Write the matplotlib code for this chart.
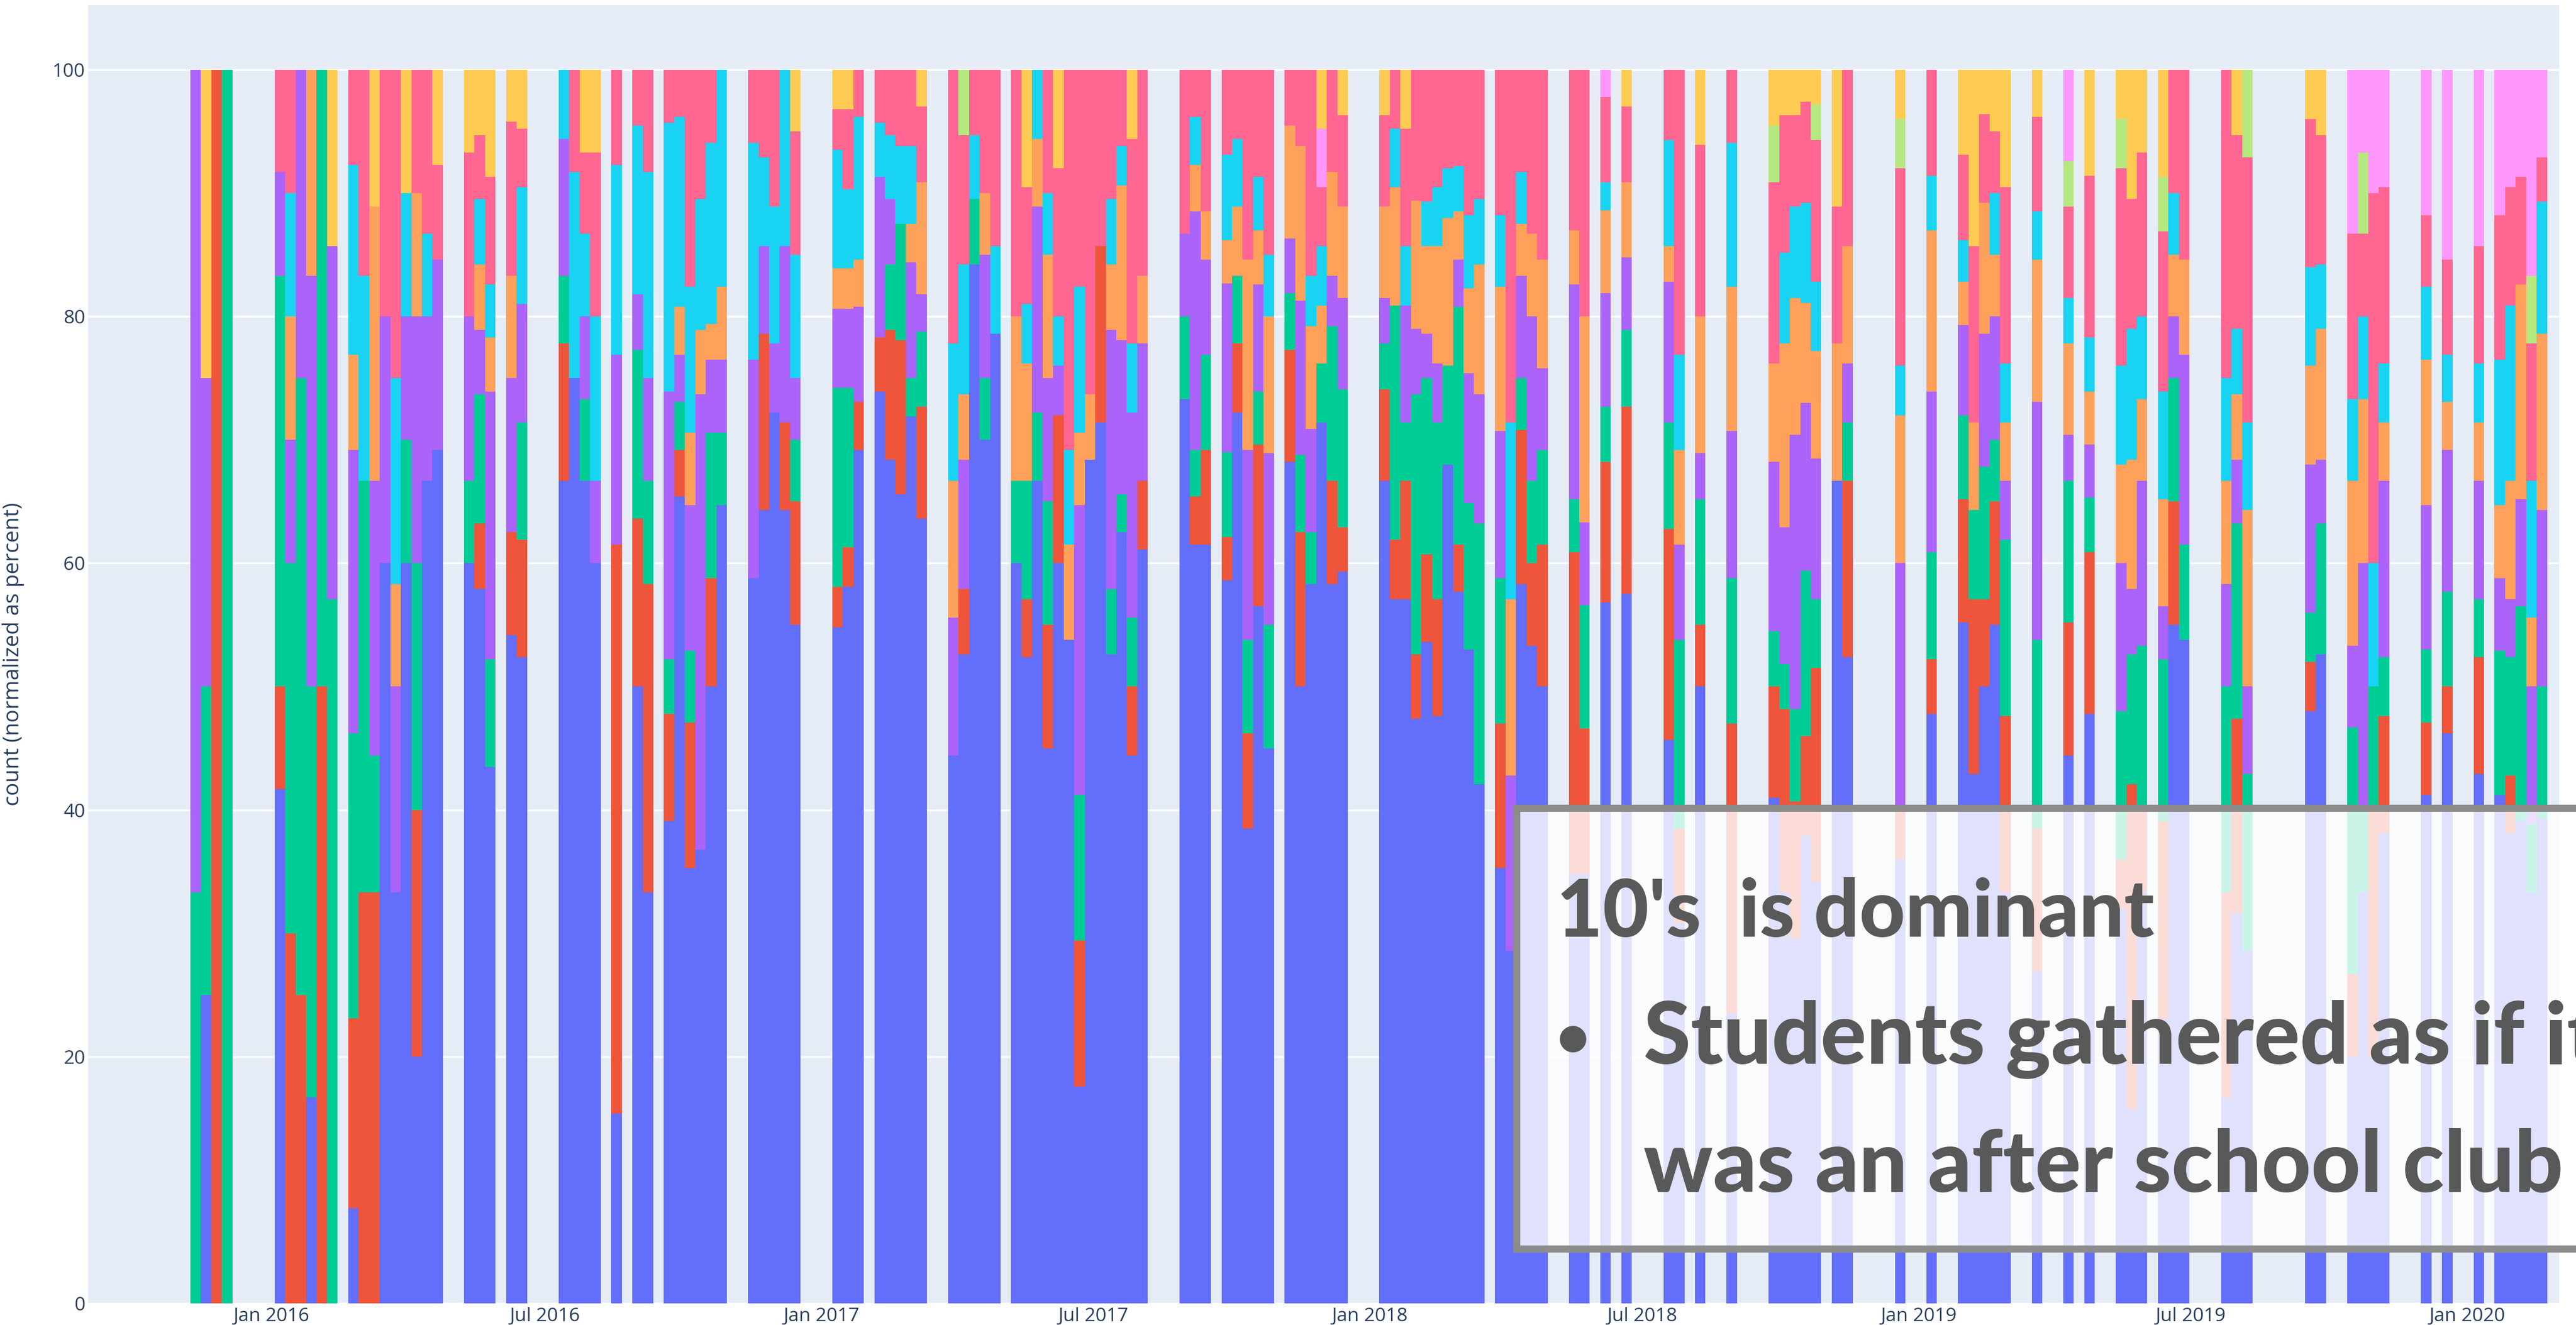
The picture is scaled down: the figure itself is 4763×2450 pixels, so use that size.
from __future__ import annotations

import matplotlib

matplotlib.use("Agg")

import matplotlib.pyplot as plt
import pandas as pd
from matplotlib.patches import Rectangle

FIRST_WEEK = pd.Timestamp("2015-11-08")

# share of the week's count up to and including each group (week number -> percent)
blue_top = {1: 25, 8: 41.7, 11: 16.7, 15: 7.7, 18: 60, 19: 33.3, 20: 60, 21: 20, 22: 66.7, 23: 69.2, 26: 60, 27: 57.9, 28: 43.5, 30: 54.2, 31: 52.4, 35: 66.7, 36: 75, 37: 66.7, 38: 60, 40: 15.4, 42: 50, 43: 33.3, 45: 39.1, 46: 65.4, 47: 35.3, 48: 36.8, 49: 50, 50: 64.7, 53: 58.8, 54: 64.3, 55: 72.2, 56: 64.3, 57: 55, 61: 54.8, 62: 58.1, 63: 69.2, 65: 73.9, 66: 68.4, 67: 65.6, 68: 71.9, 69: 63.6, 72: 44.4, 73: 52.6, 74: 84.2, 75: 70, 76: 78.6, 78: 60, 79: 52.4, 80: 66.7, 81: 45, 82: 60, 83: 53.8, 84: 17.6, 85: 68.4, 86: 71.4, 87: 52.6, 88: 62.5, 89: 44.4, 90: 61.1, 94: 73.3, 95: 61.5, 96: 61.5, 98: 58.6, 99: 72.2, 100: 38.5, 101: 56.5, 102: 45, 104: 68.2, 105: 50, 106: 58.3, 107: 71.4, 108: 58.3, 109: 59.3, 113: 66.7, 114: 57.1, 115: 57.1, 116: 47.4, 117: 53.6, 118: 47.6, 119: 68, 120: 57.7, 121: 53, 122: 42.1, 124: 35.3, 125: 28.6, 126: 58.3, 127: 53.3, 128: 50, 131: 34.8, 132: 34.8, 134: 56.8, 136: 57.5, 140: 45.7, 141: 30.8, 143: 50, 146: 23.5, 150: 41, 151: 33.3, 152: 29.6, 153: 37.9, 154: 34.2, 156: 66.7, 157: 52.4, 162: 36, 165: 47.8, 168: 55.2, 169: 42.9, 170: 50, 171: 55, 172: 33.3, 175: 26.9, 178: 44.4, 180: 47.8, 183: 32, 184: 15.8, 185: 33.3, 187: 23, 188: 55, 189: 53.8, 193: 16.7, 194: 31.6, 195: 28.6, 201: 48, 202: 52.6, 205: 20, 206: 33.3, 207: 20, 208: 38.1, 212: 41.2, 214: 46.2, 217: 42.9, 219: 41.2, 220: 38.1, 221: 39.1, 222: 33.3, 223: 39.3}
red_top = {2: 100, 8: 50, 9: 30, 10: 25, 12: 50, 15: 23.1, 16: 33.3, 17: 33.3, 21: 40, 27: 63.2, 30: 62.5, 31: 61.9, 35: 77.8, 40: 61.5, 42: 63.6, 43: 58.3, 45: 47.8, 46: 69.2, 47: 47.1, 49: 58.8, 54: 78.6, 56: 71.4, 57: 65, 61: 58.1, 62: 61.3, 63: 73.1, 65: 78.3, 66: 78.9, 67: 78.1, 69: 72.7, 73: 57.9, 79: 57.1, 81: 55, 82: 72, 84: 29.4, 86: 85.7, 89: 50, 90: 66.7, 95: 65.4, 96: 69.2, 98: 62.1, 99: 77.8, 100: 46.2, 101: 69.6, 104: 77.3, 105: 62.5, 108: 66.7, 109: 62.9, 113: 74.1, 114: 61.9, 115: 66.7, 116: 52.6, 117: 60.7, 118: 57.1, 120: 61.5, 124: 47, 126: 70.8, 127: 60, 128: 61.5, 131: 60.9, 132: 46.6, 134: 68.2, 136: 72.7, 140: 62.8, 141: 38.5, 143: 55, 146: 47, 150: 50, 151: 48.2, 152: 40.7, 153: 46, 154: 51.5, 157: 66.7, 162: 40, 165: 52.2, 168: 65.2, 169: 57.1, 170: 57.1, 171: 65, 172: 47.6, 175: 38.5, 178: 55.2, 180: 60.9, 183: 36, 184: 42.1, 185: 40, 187: 39.1, 188: 65, 193: 33.3, 194: 47.4, 201: 52, 205: 26.7, 207: 40, 208: 47.6, 212: 47.1, 214: 50, 217: 52.4, 220: 42.8}
green_top = {0: 33.3, 1: 50, 3: 100, 8: 83.3, 9: 60, 10: 75, 11: 50, 12: 100, 13: 57.1, 15: 46.2, 16: 66.7, 17: 44.4, 20: 70, 21: 60, 26: 66.7, 27: 73.7, 28: 52.2, 31: 71.4, 35: 83.3, 37: 73.3, 42: 77.3, 43: 66.7, 45: 52.2, 46: 73.1, 47: 52.9, 49: 70.6, 50: 70.6, 57: 70, 61: 74.2, 62: 74.2, 66: 84.2, 67: 87.5, 68: 75, 69: 78.8, 74: 89.5, 75: 75, 78: 66.7, 79: 66.7, 80: 72.2, 81: 65, 84: 41.2, 87: 57.9, 88: 65.6, 89: 55.6, 94: 80, 95: 69.2, 96: 76.9, 98: 69, 99: 83.3, 100: 53.8, 101: 73.9, 102: 55, 104: 81.9, 105: 68.8, 106: 62.5, 107: 76.2, 108: 79.2, 109: 74.1, 113: 77.8, 114: 80.9, 115: 71.4, 116: 73.7, 117: 75, 118: 71.4, 119: 76, 120: 80.8, 121: 64.9, 122: 63.2, 124: 58.8, 126: 75, 127: 66.7, 128: 69.2, 131: 65.2, 132: 56.6, 134: 72.7, 136: 78.9, 140: 71.4, 141: 53.8, 143: 65.2, 146: 58.8, 150: 54.5, 151: 51.8, 152: 48.2, 153: 59.4, 154: 57.1, 157: 71.4, 165: 60.9, 168: 72, 169: 64.3, 170: 67.8, 171: 70, 172: 61.9, 175: 53.8, 178: 66.7, 180: 65.3, 183: 48, 184: 52.6, 185: 53.3, 187: 52.2, 188: 75, 189: 61.5, 193: 50, 194: 63.2, 195: 42.9, 201: 56, 202: 63.2, 205: 46.7, 206: 40, 207: 50, 208: 52.4, 212: 53, 214: 57.7, 217: 57.1, 219: 52.9, 220: 52.4, 221: 56.5, 222: 38.9, 223: 50}
purple_top = {0: 100, 1: 75, 8: 91.7, 9: 70, 10: 100, 11: 83.3, 13: 85.7, 15: 69.2, 17: 66.7, 18: 80, 19: 50, 20: 80, 21: 80, 22: 80, 23: 84.6, 26: 80, 27: 78.9, 28: 73.9, 30: 75, 31: 81, 35: 94.4, 37: 80, 38: 66.7, 40: 76.9, 42: 81.8, 43: 75, 45: 73.9, 46: 76.9, 47: 64.7, 48: 73.7, 49: 76.5, 50: 76.5, 53: 76.5, 54: 85.7, 55: 77.8, 56: 85.7, 57: 75, 61: 80.6, 62: 80.6, 63: 80.8, 65: 91.3, 66: 89.5, 68: 84.4, 69: 81.8, 72: 55.6, 73: 68.4, 75: 85, 80: 88.9, 81: 75, 82: 76, 84: 64.7, 87: 78.9, 88: 78.1, 89: 72.2, 90: 77.8, 94: 86.7, 95: 88.5, 96: 84.6, 98: 82.7, 100: 69.2, 101: 82.6, 102: 68.9, 104: 86.3, 105: 81.3, 106: 70.9, 108: 83.3, 109: 81.5, 113: 81.5, 115: 80.9, 116: 79, 117: 78.6, 118: 76.2, 120: 84.6, 121: 75.4, 122: 73.7, 124: 70.7, 125: 42.8, 126: 83.3, 127: 80, 128: 75.8, 131: 82.6, 132: 63.3, 134: 81.9, 136: 84.8, 140: 82.8, 141: 61.5, 143: 68.9, 146: 70.7, 150: 68.2, 151: 62.9, 152: 70.4, 153: 73, 154: 68.5, 157: 76.2, 162: 60, 165: 73.9, 168: 79.3, 170: 78.6, 171: 80, 172: 66.7, 175: 73.1, 178: 70.4, 180: 69.6, 183: 60, 184: 57.9, 185: 66.7, 187: 56.5, 188: 80, 189: 76.9, 193: 58.3, 194: 68.4, 195: 50, 201: 68, 202: 68.4, 205: 53.3, 206: 60, 208: 66.7, 212: 64.7, 214: 69.2, 217: 66.7, 219: 58.8, 220: 57.1, 221: 65.2, 222: 50, 223: 64.3}
orange_top = {9: 80, 11: 100, 15: 76.9, 17: 88.9, 19: 58.3, 21: 90, 27: 84.2, 28: 78.3, 30: 83.3, 46: 80.8, 47: 70.6, 48: 78.9, 49: 79.4, 50: 82.4, 61: 83.9, 62: 83.9, 63: 84.6, 68: 87.5, 69: 90.9, 72: 66.7, 73: 73.7, 75: 90, 78: 80, 79: 76.2, 80: 94.4, 81: 85, 83: 61.5, 84: 70.6, 85: 73.7, 87: 84.2, 88: 90.6, 90: 83.3, 95: 92.3, 96: 88.5, 98: 86.2, 99: 88.9, 100: 84.6, 101: 87, 102: 80, 104: 95.5, 105: 93.8, 106: 79.2, 107: 80.9, 108: 91.7, 109: 88.9, 113: 88.9, 114: 90.5, 116: 89.4, 117: 85.7, 118: 85.7, 119: 88, 120: 88.5, 121: 82.3, 122: 84.2, 124: 82.4, 125: 57.1, 126: 87.5, 127: 86.7, 128: 84.6, 131: 87, 132: 80, 134: 88.6, 136: 90.9, 140: 85.7, 141: 69.2, 143: 80, 146: 82.4, 150: 76.2, 151: 77.8, 152: 81.5, 153: 81.1, 154: 77.2, 156: 77.8, 157: 85.7, 162: 72, 165: 87, 168: 82.8, 169: 71.4, 170: 89.2, 171: 85, 172: 71.4, 175: 84.6, 178: 77.8, 180: 73.9, 183: 68, 184: 68.4, 185: 73.3, 187: 65.2, 188: 85, 189: 84.6, 193: 66.7, 194: 73.7, 195: 64.3, 201: 76, 202: 79, 205: 66.7, 206: 73.3, 208: 71.4, 212: 76.5, 214: 73.1, 217: 71.4, 219: 64.7, 220: 66.7, 221: 82.6, 222: 55.6, 223: 78.6}
cyan_top = {9: 90, 15: 92.3, 16: 83.3, 19: 75, 20: 90, 22: 86.7, 27: 89.5, 28: 82.6, 31: 90.5, 35: 100, 36: 91.7, 37: 86.7, 38: 80, 40: 92.3, 42: 95.5, 43: 91.7, 45: 95.7, 46: 96.2, 47: 82.4, 48: 89.5, 49: 94.1, 50: 100, 53: 94.1, 54: 92.9, 55: 88.9, 56: 100, 57: 85, 61: 93.5, 62: 90.3, 63: 96.2, 65: 95.7, 66: 94.7, 67: 93.8, 68: 93.8, 72: 77.8, 73: 84.2, 74: 94.7, 76: 85.7, 79: 81, 80: 100, 81: 90, 82: 80, 83: 69.2, 84: 82.4, 87: 89.5, 88: 93.8, 89: 77.8, 95: 96.2, 98: 93.1, 99: 94.4, 101: 91.3, 102: 85, 106: 83.3, 107: 85.7, 114: 95.2, 115: 85.7, 117: 89.3, 118: 90.5, 119: 92, 120: 92.2, 121: 88.2, 122: 89.5, 124: 88.2, 125: 71.4, 126: 91.7, 134: 90.9, 140: 94.3, 141: 76.9, 146: 94.1, 151: 85.2, 152: 88.9, 153: 89.2, 154: 82.8, 162: 76, 165: 91.4, 168: 86.2, 171: 90, 172: 76.2, 175: 88.5, 178: 81.5, 180: 78.3, 183: 76, 184: 79, 185: 80, 187: 73.9, 188: 90, 193: 75, 194: 79, 195: 71.4, 201: 84, 202: 84.2, 205: 73.3, 206: 80, 207: 60, 208: 76.2, 212: 82.4, 214: 76.9, 217: 76.2, 219: 76.5, 220: 80.9, 222: 66.7, 223: 89.3}
pink_top = {8: 100, 9: 100, 15: 100, 16: 100, 18: 100, 19: 100, 21: 100, 22: 100, 23: 92.3, 26: 93.3, 27: 94.7, 28: 91.3, 30: 95.8, 31: 95.2, 36: 100, 37: 93.3, 38: 93.3, 40: 100, 42: 100, 43: 100, 45: 100, 46: 100, 47: 100, 48: 100, 49: 100, 53: 100, 54: 100, 55: 100, 57: 95, 61: 96.8, 62: 96.8, 63: 100, 65: 100, 66: 100, 67: 100, 68: 100, 69: 97, 72: 100, 73: 94.7, 74: 100, 75: 100, 76: 100, 78: 100, 79: 90.5, 81: 100, 82: 92, 83: 100, 84: 100, 85: 100, 86: 100, 87: 100, 88: 100, 89: 94.4, 90: 100, 94: 100, 95: 100, 96: 100, 98: 100, 99: 100, 100: 100, 101: 100, 102: 100, 104: 100, 105: 100, 106: 100, 107: 90.5, 108: 100, 109: 96.3, 113: 96.3, 114: 100, 115: 95.2, 116: 100, 117: 100, 118: 100, 119: 100, 120: 100, 121: 100, 122: 100, 124: 100, 125: 100, 126: 100, 127: 100, 128: 100, 131: 100, 132: 100, 134: 97.8, 136: 97, 140: 100, 141: 100, 143: 93.9, 146: 100, 150: 90.9, 151: 96.3, 152: 96.3, 153: 97.4, 154: 94.3, 156: 88.9, 157: 100, 162: 92, 165: 100, 168: 93.1, 169: 85.7, 170: 96.4, 171: 95, 172: 90.5, 175: 96.2, 178: 88.9, 180: 91.4, 183: 92, 184: 89.5, 185: 93.3, 187: 86.9, 188: 100, 189: 100, 193: 100, 194: 94.7, 195: 92.9, 201: 96, 202: 94.7, 205: 86.7, 206: 86.7, 207: 90, 208: 90.5, 212: 88.2, 214: 84.6, 217: 85.7, 219: 88.2, 220: 90.5, 221: 91.3, 222: 77.8, 223: 92.9}
lime_top = {73: 100, 150: 95.5, 154: 97.2, 162: 96, 178: 92.6, 183: 96, 187: 91.3, 195: 100, 206: 93.3, 222: 83.3}
magenta_top = {107: 95.2, 134: 100, 178: 100, 205: 100, 206: 100, 207: 100, 208: 100, 212: 100, 214: 100, 217: 100, 219: 100, 220: 100, 221: 100, 222: 100, 223: 100}
yellow_top = {1: 100, 13: 100, 17: 100, 20: 100, 23: 100, 26: 100, 27: 100, 28: 100, 30: 100, 31: 100, 37: 100, 38: 100, 57: 100, 61: 100, 62: 100, 69: 100, 79: 100, 82: 100, 89: 100, 107: 100, 109: 100, 113: 100, 115: 100, 136: 100, 143: 100, 150: 100, 151: 100, 152: 100, 153: 100, 154: 100, 156: 100, 162: 100, 168: 100, 169: 100, 170: 100, 171: 100, 172: 100, 175: 100, 180: 100, 183: 100, 184: 100, 185: 100, 187: 100, 194: 100, 201: 100, 202: 100}

y_ticks = [0, 20, 40, 60, 80, 100]
x_tick_dates = ["2016-01-01", "2016-07-01", "2017-01-01", "2017-07-01", "2018-01-01", "2018-07-01", "2019-01-01", "2019-07-01", "2020-01-01"]
x_tick_labels = ["Jan 2016", "Jul 2016", "Jan 2017", "Jul 2017", "Jan 2018", "Jul 2018", "Jan 2019", "Jul 2019", "Jan 2020"]

SERIES = [
    (blue_top, "#636EFA"),
    (red_top, "#EF553B"),
    (green_top, "#00CC96"),
    (purple_top, "#AB63FA"),
    (orange_top, "#FFA15A"),
    (cyan_top, "#19D3F3"),
    (pink_top, "#FF6692"),
    (lime_top, "#B6E880"),
    (magenta_top, "#FF97FF"),
    (yellow_top, "#FECB52"),
]

WIDTH, HEIGHT = 4763, 2450
LEFT, RIGHT, TOP, BOTTOM = 163, 4732, 9, 2410
INK = "#2a3f5f"
NOTE_INK = "#595959"


def fx(px: float) -> float:
    return px / WIDTH


def fy(px: float) -> float:
    return 1.0 - px / HEIGHT


def main() -> None:
    plt.rcParams["font.family"] = ["Open Sans", "DejaVu Sans"]

    tops = pd.DataFrame({i: pd.Series(s) for i, (s, _) in enumerate(SERIES)}).sort_index()
    # a group missing from a week has no height: it ends where the one below ends
    filled = tops.ffill(axis=1).fillna(0.0)
    dates = FIRST_WEEK + pd.to_timedelta(filled.index * 7, unit="D")

    fig = plt.figure(figsize=(WIDTH / 100, HEIGHT / 100), dpi=100)
    ax = fig.add_axes([fx(LEFT), fy(BOTTOM), fx(RIGHT - LEFT), (BOTTOM - TOP) / HEIGHT])
    ax.set_facecolor("#E5ECF6")

    bottom = pd.Series(0.0, index=filled.index)
    for i, (_, color) in enumerate(SERIES):
        ax.bar(dates, filled[i] - bottom, bottom=bottom, width=7, align="edge", color=color, linewidth=0)
        bottom = filled[i]

    ax.set_xlim(pd.Timestamp("2015-09-01"), pd.Timestamp("2020-03-02"))
    ax.set_ylim(0, 105.26)
    ax.set_yticks(y_ticks)
    ax.set_xticks(pd.to_datetime(x_tick_dates))
    ax.set_xticklabels(x_tick_labels)
    ax.tick_params(length=0, labelsize=25.5, labelcolor=INK)
    ax.tick_params(axis="y", pad=4)
    ax.tick_params(axis="x", pad=5)
    ax.grid(axis="y", color="white", linewidth=2.4)
    ax.set_axisbelow(True)
    for spine in ax.spines.values():
        spine.set_visible(False)

    fig.text(fx(25), fy(1210), "count (normalized as percent)", rotation=90, ha="center", va="center", color=INK, fontsize=29)

    # note box runs off the right edge of the picture
    fig.add_artist(
        Rectangle(
            (fx(2804), fy(2308.5)),
            fx(2100),
            (2308.5 - 1493.5) / HEIGHT,
            transform=fig.transFigure,
            facecolor=(1, 1, 1, 0.8),
            edgecolor="#8c8c8c",
            linewidth=9.4,
        )
    )
    note = dict(color=NOTE_INK, family="Lato", weight="black", fontsize=114, va="center", ha="left")
    fig.text(fx(2878), fy(1689), "10's  is dominant", **{**note, "fontsize": 106})
    fig.text(fx(2878), fy(1922), "•", **{**note, "fontsize": 76})
    fig.text(fx(3039), fy(1922), "Students gathered as if it", **note)
    fig.text(fx(3039), fy(2158), "was an after school club", **note)

    fig.savefig("out.png", dpi=100)
    plt.close(fig)


if __name__ == "__main__":
    main()
